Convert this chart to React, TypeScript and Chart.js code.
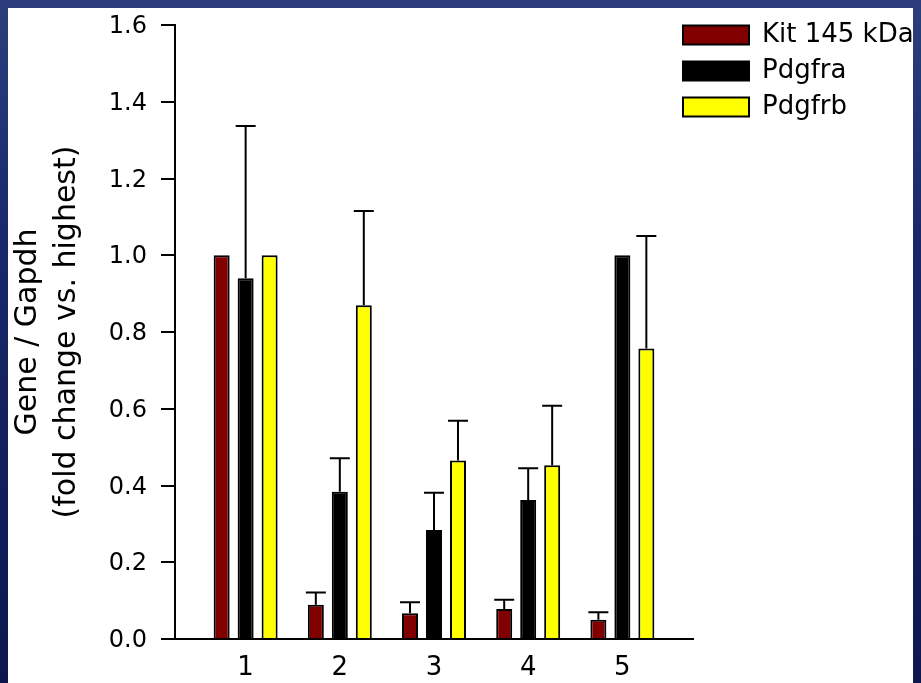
import React, { useEffect, useRef } from 'react';
import { Chart, registerables } from 'chart.js';

Chart.register(...registerables);

// ---- data ----
const categories = [1, 2, 3, 4, 5];
const categoryLabels = ['1', '2', '3', '4', '5'];
const seriesNames = ['Kit 145 kDa', 'Pdgfra', 'Pdgfrb'];
const kitValues = [1.0, 0.089, 0.067, 0.078, 0.05];
const kitErrors = [0, 0.032, 0.029, 0.024, 0.02];
const pdgfraValues = [0.94, 0.384, 0.284, 0.362, 1.0];
const pdgfraErrors = [0.397, 0.087, 0.097, 0.083, 0];
const pdgfrbValues = [1.0, 0.87, 0.465, 0.453, 0.757];
const pdgfrbErrors = [0, 0.245, 0.104, 0.155, 0.293];
const yTickValues = [0, 0.2, 0.4, 0.6, 0.8, 1.0, 1.2, 1.4, 1.6];
const yTitle = ['Gene / Gapdh', '(fold change vs. highest)'];

const seriesValues = [kitValues, pdgfraValues, pdgfrbValues];
const seriesErrors = [kitErrors, pdgfraErrors, pdgfrbErrors];
const seriesColors = ['#800000', '#000000', '#ffff00'];

const FONT = 'DejaVu Sans';

const errorBarPlugin = {
  id: 'errorBars',
  afterDatasetsDraw(chart: any) {
    const ctx = chart.ctx;
    const yScale = chart.scales.y;
    ctx.save();
    ctx.strokeStyle = '#000';
    ctx.lineWidth = 2;
    chart.data.datasets.forEach((_ds: any, i: number) => {
      const meta = chart.getDatasetMeta(i);
      meta.data.forEach((bar: any, j: number) => {
        const err = seriesErrors[i][j];
        if (!err) return;
        const top = yScale.getPixelForValue(seriesValues[i][j] + err);
        ctx.beginPath();
        ctx.moveTo(bar.x, bar.y);
        ctx.lineTo(bar.x, top);
        ctx.moveTo(bar.x - 10, top);
        ctx.lineTo(bar.x + 10, top);
        ctx.stroke();
      });
    });
    ctx.restore();
  },
};

const legendPlacePlugin = {
  id: 'legendPlace',
  beforeDraw(chart: any) {
    const lg = chart.legend;
    if (!lg) return;
    const w = lg.width;
    const h = lg.height;
    lg.left = 665;
    lg.top = 4;
    lg.right = lg.left + w;
    lg.bottom = lg.top + h;
  },
};

export default function App() {
  const canvasRef = useRef<HTMLCanvasElement | null>(null);

  useEffect(() => {
    document.body.style.background =
      'linear-gradient(180deg, #2c3f7c 0%, #18286a 35%, #0c174e 100%)';
    document.body.style.overflow = 'hidden';
    document.body.style.margin = '8px';
    const canvas = canvasRef.current;
    if (!canvas) return;
    const chart = new Chart(canvas, {
      type: 'bar',
      data: {
        datasets: seriesNames.map((name, i) => ({
          label: name,
          data: categories.map((c, j) => ({ x: c, y: seriesValues[i][j] })),
          backgroundColor: seriesColors[i],
          borderColor: '#000',
          borderWidth: 2,
          categoryPercentage: 0.764,
          barPercentage: 0.667,
        })),
      },
      options: {
        responsive: false,
        animation: false,
        events: [],
        layout: { padding: { left: 0, top: 17, right: 228, bottom: 0 } },
        plugins: {
          tooltip: { enabled: false },
          legend: {
            display: true,
            position: 'chartArea',
            align: 'start',
            labels: {
              boxWidth: 66,
              boxHeight: 19,
              padding: 10,
              color: '#000',
              font: { family: FONT, size: 26 },
            },
          },
        },
        scales: {
          x: {
            type: 'linear',
            min: 0.25,
            max: 5.75,
            offset: false,
            afterBuildTicks: (s: any) => {
              s.ticks = categories.map((c) => ({ value: c }));
            },
            afterFit: (s: any) => {
              s.height = 44;
              s.paddingLeft = 0;
              s.paddingRight = 0;
            },
            ticks: {
              color: '#000',
              padding: 14,
              maxRotation: 0,
              autoSkip: false,
              font: { family: FONT, size: 26 },
              callback: (v: any) => {
                const k = categories.indexOf(Number(v));
                return k >= 0 ? categoryLabels[k] : '';
              },
            },
            grid: { display: false, drawTicks: false, offset: false },
            border: { display: true, color: '#000', width: 2 },
          },
          y: {
            type: 'linear',
            min: 0,
            max: 1.6,
            afterBuildTicks: (s: any) => {
              s.ticks = yTickValues.map((v) => ({ value: v }));
            },
            afterFit: (s: any) => {
              s.width = 167;
              s.paddingTop = 0;
              s.paddingBottom = 0;
            },
            ticks: {
              color: '#000',
              padding: 14,
              labelOffset: 2,
              font: { family: FONT, size: 24 },
              callback: (v: any) => Number(v).toFixed(1),
            },
            grid: {
              display: true,
              drawOnChartArea: false,
              drawTicks: true,
              tickLength: 14,
              color: '#000',
              lineWidth: 2,
            },
            border: { display: true, color: '#000', width: 2 },
            title: {
              display: true,
              text: yTitle,
              color: '#000',
              font: { family: FONT, size: 30, lineHeight: 1.3 },
              padding: { top: 1, bottom: 0 },
            },
          },
        },
      } as any,
      plugins: [errorBarPlugin, legendPlacePlugin],
    });
    return () => chart.destroy();
  }, []);

  return (
    <div style={{ width: 913, height: 675, background: '#ffffff', position: 'relative' }}>
      <canvas ref={canvasRef} width={913} height={675} style={{ display: 'block' }} />
    </div>
  );
}
